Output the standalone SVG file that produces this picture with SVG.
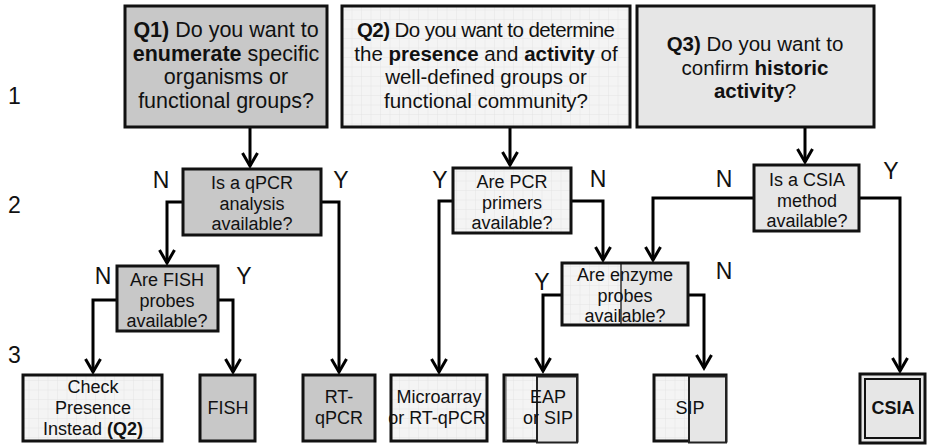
<svg xmlns="http://www.w3.org/2000/svg" width="927" height="445" viewBox="0 0 927 445">
<defs>
<pattern id="grid" width="9.5" height="9.5" patternUnits="userSpaceOnUse">
<rect width="9.5" height="9.5" fill="#f4f4f4"/>
<path d="M0,0 H9.5 M0,0 V9.5" stroke="#dcdcdc" stroke-width="0.6" fill="none"/>
</pattern>
<marker id="arr" markerWidth="24" markerHeight="24" viewBox="0 0 24 24" refX="16" refY="12" orient="auto" markerUnits="userSpaceOnUse">
<path d="M3,4.5 L16,12 L3,19.5" fill="none" stroke="#000" stroke-width="3"/>
</marker>
</defs>
<style>
text{font-family:"Liberation Sans",Arial,sans-serif;fill:#111}
.q{font-size:21.5px;text-anchor:middle}
.q2{font-size:20.5px}
.t{font-size:18px;text-anchor:middle}
.lab{font-size:23px;text-anchor:middle}
.num{font-size:23px}
.b{font-weight:bold}
.box{stroke:#111;stroke-width:3}
.dark{fill:#c8c8c8}
.mid{fill:#e6e6e6}
.grid{fill:url(#grid)}
.div{stroke:#333;stroke-width:1.5}
.conn{fill:none;stroke:#000;stroke-width:3}
</style>
<rect width="927" height="445" fill="#fff"/>
<g id="row-numbers">
<text class="num" x="8" y="104">1</text>
<text class="num" x="8" y="213">2</text>
<text class="num" x="8" y="363">3</text>
</g>
<g id="connectors">
<path class="conn" d="M250,127 V166" marker-end="url(#arr)"/>
<path class="conn" d="M183,202 H167 V263" marker-end="url(#arr)"/>
<path class="conn" d="M321,202 H339 V372" marker-end="url(#arr)"/>
<path class="conn" d="M117,300 H93 V372" marker-end="url(#arr)"/>
<path class="conn" d="M218,300 H233 V372" marker-end="url(#arr)"/>
<path class="conn" d="M510,127 V165" marker-end="url(#arr)"/>
<path class="conn" d="M453,201 H439 V372" marker-end="url(#arr)"/>
<path class="conn" d="M571,201 H603 V260" marker-end="url(#arr)"/>
<path class="conn" d="M805,127 V162" marker-end="url(#arr)"/>
<path class="conn" d="M754,198 H653 V260" marker-end="url(#arr)"/>
<path class="conn" d="M859,198 H900 V371" marker-end="url(#arr)"/>
<path class="conn" d="M562,295 H543 V371" marker-end="url(#arr)"/>
<path class="conn" d="M688,295 H704 V368" marker-end="url(#arr)"/>
</g>
<g id="labels">
<text class="lab" x="161" y="188">N</text>
<text class="lab" x="341" y="188">Y</text>
<text class="lab" x="103" y="284">N</text>
<text class="lab" x="244" y="284">Y</text>
<text class="lab" x="440" y="188">Y</text>
<text class="lab" x="598" y="187">N</text>
<text class="lab" x="724" y="187">N</text>
<text class="lab" x="891" y="179">Y</text>
<text class="lab" x="542" y="290">Y</text>
<text class="lab" x="724" y="279">N</text>
</g>
<g id="q1">
<rect class="box dark" x="125" y="6" width="202" height="121"/>
<text class="q" x="226" y="37"><tspan class="b">Q1)</tspan> Do you want to</text>
<text class="q" x="226" y="60.5"><tspan class="b">enumerate</tspan> specific</text>
<text class="q" x="226" y="84">organisms or</text>
<text class="q" x="226" y="107.5">functional groups?</text>
</g>
<g id="q2">
<rect class="box grid" x="342" y="6" width="288" height="121"/>
<text class="q q2" x="486" y="37" textLength="258"><tspan class="b">Q2)</tspan> Do you want to determine</text>
<text class="q q2" x="486" y="60.5">the <tspan class="b">presence</tspan> and <tspan class="b">activity</tspan> of</text>
<text class="q q2" x="486" y="84">well-defined groups or</text>
<text class="q q2" x="486" y="107.5">functional community?</text>
</g>
<g id="q3">
<rect class="box mid" x="637" y="6" width="237" height="121"/>
<text class="q q2" x="755" y="51"><tspan class="b">Q3)</tspan> Do you want to</text>
<text class="q q2" x="755" y="74.5">confirm <tspan class="b">historic</tspan></text>
<text class="q q2" x="755" y="98"><tspan class="b">activity</tspan>?</text>
</g>
<g id="qpcr-q">
<rect class="box dark" x="183" y="169" width="138" height="66"/>
<text class="t" x="252" y="189">Is a qPCR</text>
<text class="t" x="252" y="209.5">analysis</text>
<text class="t" x="252" y="230">available?</text>
</g>
<g id="fish-q">
<rect class="box dark" x="117" y="266" width="101" height="65"/>
<text class="t" x="167" y="286">Are FISH</text>
<text class="t" x="167" y="306.5">probes</text>
<text class="t" x="167" y="327">available?</text>
</g>
<g id="pcr-q">
<rect class="box grid" x="453" y="168" width="118" height="65"/>
<text class="t" x="512" y="188">Are PCR</text>
<text class="t" x="512" y="208.5">primers</text>
<text class="t" x="512" y="229">available?</text>
</g>
<g id="csia-q">
<rect class="box mid" x="754" y="165" width="105" height="66"/>
<text class="t" x="807" y="186">Is a CSIA</text>
<text class="t" x="807" y="206.5">method</text>
<text class="t" x="807" y="227">available?</text>
</g>
<g id="enzyme-q">
<rect class="grid" x="562" y="263" width="59" height="62"/>
<rect class="mid" x="621" y="263" width="67" height="62"/>
<line class="div" x1="621" y1="264" x2="621" y2="324"/>
<rect class="box" x="562" y="263" width="126" height="62" fill="none"/>
<text class="t" x="625" y="281">Are enzyme</text>
<text class="t" x="625" y="302">probes</text>
<text class="t" x="625" y="322">available?</text>
</g>
<g id="check">
<rect class="box grid" x="23" y="375" width="139" height="66"/>
<text class="t" x="93" y="393">Check</text>
<text class="t" x="93" y="414">Presence</text>
<text class="t" x="93" y="435">Instead <tspan class="b">(Q2)</tspan></text>
</g>
<g id="fish">
<rect class="box dark" x="200" y="375" width="55" height="66"/>
<text class="t" x="228" y="414">FISH</text>
</g>
<g id="rt-qpcr">
<rect class="box dark" x="303" y="375" width="72" height="66"/>
<text class="t" x="339" y="403">RT-</text>
<text class="t" x="339" y="424">qPCR</text>
</g>
<g id="microarray">
<rect class="box grid" x="391" y="375" width="96" height="66"/>
<text class="t" x="439" y="403">Microarray</text>
<text class="t" x="437" y="424">or RT-qPCR</text>
</g>
<g id="eap">
<rect class="box grid" x="504" y="375" width="73" height="66"/>
<rect x="537" y="376.5" width="40" height="66" fill="#e6e6e6" stroke="#222" stroke-width="2"/>
<line x1="506" y1="376" x2="506" y2="441" stroke="#555" stroke-width="1"/>
<text class="t" x="548" y="403">EAP</text>
<text class="t" x="548" y="424">or SIP</text>
</g>
<g id="sip">
<rect class="box grid" x="654" y="375" width="72" height="66"/>
<rect x="689" y="376.5" width="37" height="66" fill="#e6e6e6" stroke="#222" stroke-width="2"/>
<text class="t" x="690" y="414">SIP</text>
</g>
<g id="csia">
<rect class="box mid" x="860" y="374" width="65" height="69"/>
<rect x="865" y="379" width="55" height="59" fill="none" stroke="#111" stroke-width="2"/>
<text class="t b" x="893" y="414">CSIA</text>
</g>
</svg>
